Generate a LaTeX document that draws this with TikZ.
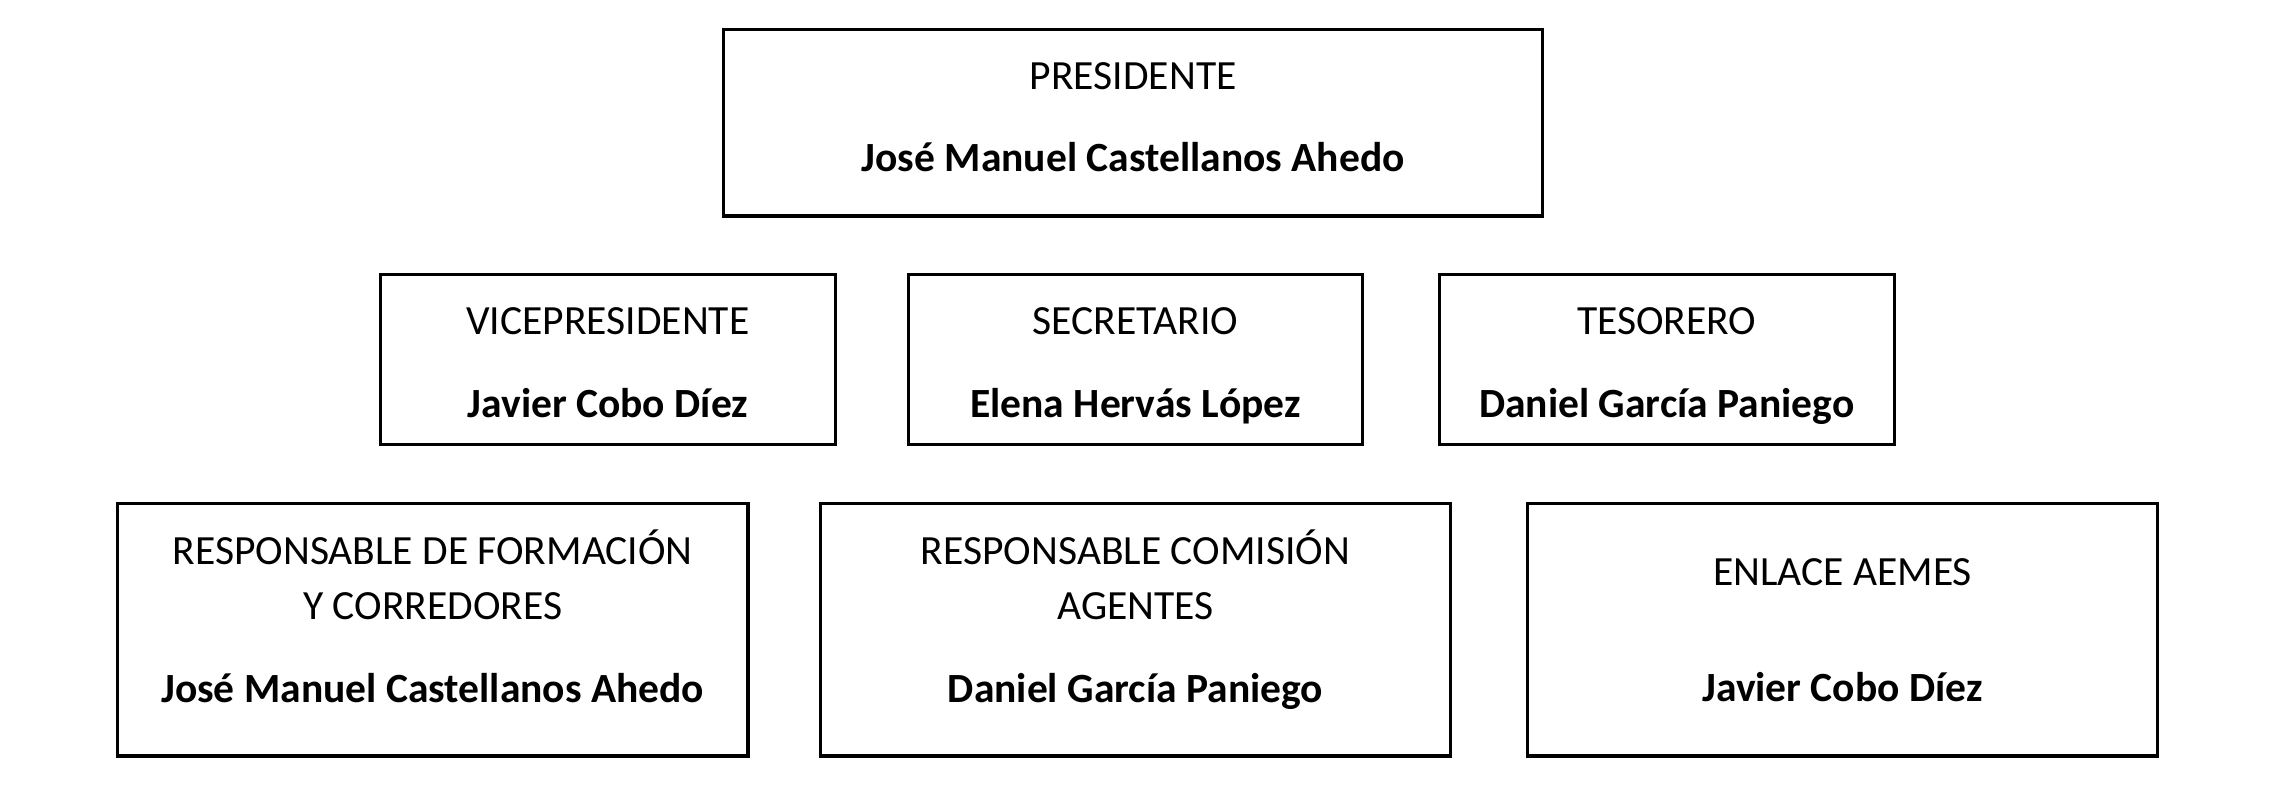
\documentclass[tikz,border=0pt]{standalone}
\usepackage{fontspec}
\setmainfont{Carlito}
\newcommand{\headstrut}[1]{\rule{0pt}{\dimexpr 15pt+#1\relax}}
\newcommand{\footstrut}[1]{\rule[\dimexpr -6.5pt-#1\relax]{0pt}{\dimexpr 6.5pt+#1\relax}}
\begin{document}
\begin{tikzpicture}[font=\fontsize{16.2}{21.5}\selectfont]

        \useasboundingbox (0,-0.111) rectangle (31.354,10.948);

        \begin{scope}[every node/.style={rectangle,draw,line width=1.2pt,align=center,minimum width=11.22cm,minimum height=2.56cm}]
          \node (1)  at (15.53,9.268)  {\headstrut{0pt}PRESIDENTE\\[0.38cm]\textbf{José Manuel Castellanos Ahedo}\footstrut{2.3pt}};
        \end{scope}

        \begin{scope}[every node/.style={rectangle,draw,line width=1.2pt,align=center,minimum width=6.23cm,minimum height=2.33cm}]
          \node (2)  at (8.33,6.02)  {\headstrut{4.5pt}VICEPRESIDENTE\\[0.38cm]\textbf{Javier Cobo Díez}\footstrut{0pt}};
          \node (3)  at (15.56,6.02) {\headstrut{4.5pt}SECRETARIO\\[0.38cm]\textbf{Elena Hervás López}\footstrut{0pt}};
          \node (4)  at (22.84,6.02) {\headstrut{4.5pt}TESORERO\\[0.38cm]\textbf{Daniel García Paniego}\footstrut{0pt}};
        \end{scope}

        \begin{scope}[every node/.style={rectangle,draw,line width=1.2pt,align=center,minimum width=8.64cm,minimum height=3.46cm}]
          \node (5)  at (5.93,2.318)  {\headstrut{0pt}RESPONSABLE DE FORMACIÓN\\Y CORREDORES\\[0.38cm]\textbf{José Manuel Castellanos Ahedo}\footstrut{5.7pt}};
          \node (6)  at (15.56,2.318) {\headstrut{0pt}RESPONSABLE COMISIÓN\\AGENTES\\[0.38cm]\textbf{Daniel García Paniego}\footstrut{5.7pt}};
          \node (7)  at (25.25,2.318) {\headstrut{2.3pt}ENLACE AEMES\\[0.84cm]\textbf{Javier Cobo Díez}\footstrut{0pt}};
        \end{scope}

      \end{tikzpicture}
\end{document}
